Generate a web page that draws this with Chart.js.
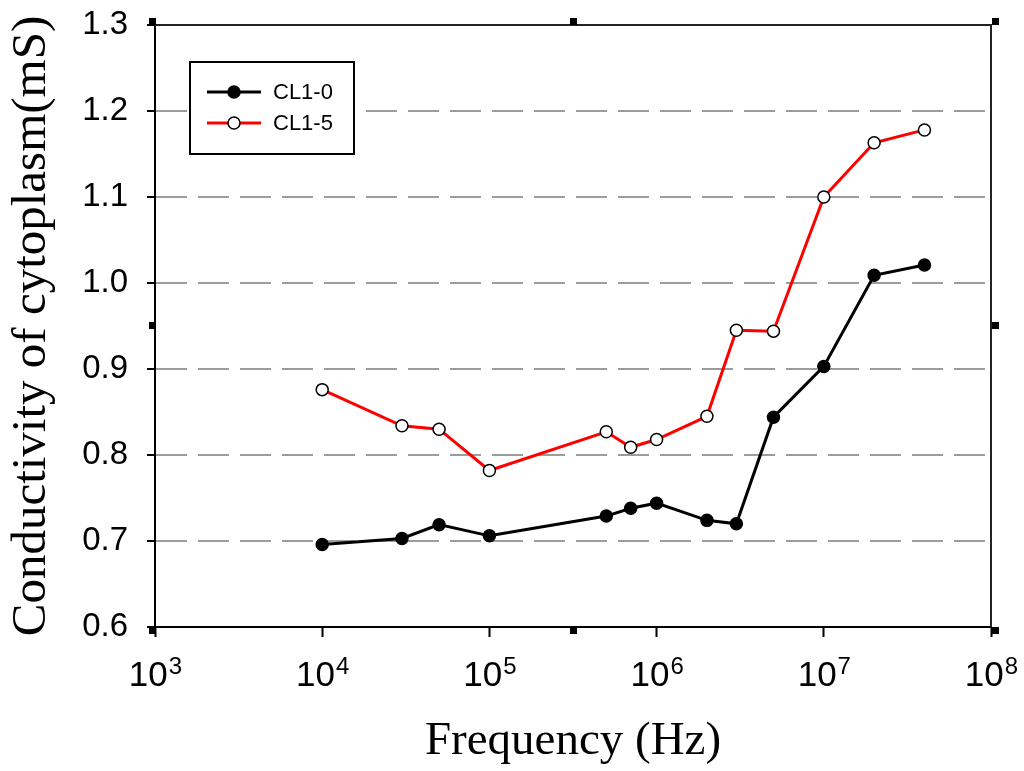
<!DOCTYPE html>
<html>
<head>
<meta charset="utf-8">
<title>Conductivity of cytoplasm</title>
<script src="https://cdn.jsdelivr.net/npm/chart.js@4.4.1/dist/chart.umd.min.js"></script>
<style>
  html, body { margin: 0; padding: 0; background: #fff; }
  canvas { display: block; }
</style>
</head>
<body>
<canvas id="conductivity-chart" width="1024" height="771"></canvas>
<script>
// Measurement frequencies (Hz), same for both samples
const frequencies = [1e4, 3e4, 5e4, 1e5, 5e5, 7e5, 1e6, 2e6, 3e6, 5e6, 1e7, 2e7, 4e7];
// Conductivity of cytoplasm (mS)
const cl10Values = [0.696, 0.703, 0.719, 0.706, 0.729, 0.738, 0.744, 0.724, 0.720, 0.844, 0.903, 1.009, 1.021];
const cl15Values = [0.876, 0.834, 0.830, 0.782, 0.827, 0.809, 0.818, 0.845, 0.945, 0.944, 1.100, 1.163, 1.178];
const seriesNames = ['CL1-0', 'CL1-5'];
// Axis ticks
const freqExponents = [3, 4, 5, 6, 7, 8];
const yTickValues = [0.6, 0.7, 0.8, 0.9, 1.0, 1.1, 1.2, 1.3];

const SANS = '"Liberation Sans", Arial, sans-serif';
const SERIF = '"Liberation Serif", "Times New Roman", serif';

const toPoints = (values) => frequencies.map((f, i) => ({ x: f, y: values[i] }));

// "10^n" labels under the x axis, drawn with a raised exponent
const powerLabels = {
  id: 'powerLabels',
  afterDraw(chart) {
    const { ctx } = chart;
    const xScale = chart.scales.x;
    const baseY = xScale.top + 59;
    ctx.save();
    ctx.fillStyle = '#000';
    ctx.textAlign = 'left';
    ctx.textBaseline = 'alphabetic';
    freqExponents.forEach((exp) => {
      const x = xScale.getPixelForValue(10 ** exp);
      ctx.font = `35px ${SANS}`;
      const baseW = ctx.measureText('10').width;
      ctx.font = `24px ${SANS}`;
      const expW = ctx.measureText(String(exp)).width;
      const left = x - (baseW + expW) / 2;
      ctx.font = `35px ${SANS}`;
      ctx.fillText('10', left, baseY);
      ctx.font = `24px ${SANS}`;
      ctx.fillText(String(exp), left + baseW + 1, baseY - 12);
    });
    ctx.restore();
  },
};

// Top/right frame lines plus the small square handles round the plot box
const frameBox = {
  id: 'frameBox',
  afterDraw(chart) {
    const { ctx, chartArea: a } = chart;
    ctx.save();
    ctx.strokeStyle = '#222';
    ctx.lineWidth = 2;
    ctx.beginPath();
    ctx.moveTo(a.left, a.top);
    ctx.lineTo(a.right, a.top);
    ctx.lineTo(a.right, a.bottom);
    ctx.stroke();

    ctx.fillStyle = '#000';
    const midX = (a.left + a.right) / 2;
    const midY = (a.top + a.bottom) / 2;
    const s = 7;
    [
      [a.left - s + 1, a.top - s], [midX - 3, a.top - s], [a.right + 1, a.top - s],
      [a.left - s + 1, midY - 4], [a.right + 1, midY - 4],
      [a.left - s + 1, a.bottom], [midX - 3, a.bottom], [a.right + 1, a.bottom],
    ].forEach(([x, y]) => ctx.fillRect(x, y, s, s));
    ctx.restore();
  },
};

// Boxed legend inside the plot area, upper left
const boxLegend = {
  id: 'boxLegend',
  afterDatasetsDraw(chart) {
    const { ctx } = chart;
    const box = { x: 190, y: 62, w: 164, h: 92 };
    ctx.save();
    ctx.fillStyle = '#fff';
    ctx.fillRect(box.x, box.y, box.w, box.h);
    ctx.strokeStyle = '#000';
    ctx.lineWidth = 2;
    ctx.strokeRect(box.x, box.y, box.w, box.h);

    chart.data.datasets.forEach((ds, i) => {
      const y = box.y + 30 + i * 31;
      ctx.strokeStyle = ds.borderColor;
      ctx.lineWidth = ds.borderWidth;
      ctx.beginPath();
      ctx.moveTo(box.x + 17, y);
      ctx.lineTo(box.x + 71, y);
      ctx.stroke();

      ctx.beginPath();
      ctx.arc(box.x + 44, y, ds.pointRadius, 0, Math.PI * 2);
      ctx.fillStyle = ds.pointBackgroundColor;
      ctx.fill();
      ctx.lineWidth = ds.pointBorderWidth;
      ctx.strokeStyle = ds.pointBorderColor;
      ctx.stroke();

      ctx.fillStyle = '#000';
      ctx.font = `22px ${SANS}`;
      ctx.textAlign = 'left';
      ctx.textBaseline = 'middle';
      ctx.fillText(ds.label, box.x + 83, y + 1);
    });
    ctx.restore();
  },
};

const ctx = document.getElementById('conductivity-chart').getContext('2d');
const conductivityChart = new Chart(ctx, {
  type: 'line',
  data: {
    datasets: [
      {
        label: seriesNames[0],
        data: toPoints(cl10Values),
        borderColor: '#000',
        borderWidth: 3,
        pointRadius: 6,
        pointBackgroundColor: '#000',
        pointBorderColor: '#000',
        pointBorderWidth: 1.5,
        tension: 0,
      },
      {
        label: seriesNames[1],
        data: toPoints(cl15Values),
        borderColor: '#ff0000',
        borderWidth: 3,
        pointRadius: 6,
        pointBackgroundColor: '#fff',
        pointBorderColor: '#000',
        pointBorderWidth: 1.5,
        tension: 0,
      },
    ],
  },
  options: {
    responsive: false,
    animation: false,
    layout: {
      padding: { top: 25, right: 33, left: 0, bottom: 0 },
    },
    plugins: {
      legend: { display: false },
      tooltip: { enabled: false },
    },
    scales: {
      x: {
        type: 'logarithmic',
        min: 1e3,
        max: 1e8,
        afterBuildTicks: (scale) => {
          scale.ticks = freqExponents.map((e) => ({ value: 10 ** e, major: true }));
        },
        afterFit: (scale) => {
          scale.height = 144;
          scale.paddingLeft = 0;
          scale.paddingRight = 0;
        },
        ticks: { display: false },
        grid: {
          drawOnChartArea: false,
          drawTicks: true,
          tickLength: 10,
          tickColor: '#000',
          tickWidth: 2,
        },
        border: { display: true, color: '#000', width: 2 },
        title: {
          display: true,
          text: 'Frequency (Hz)',
          color: '#000',
          font: { family: SERIF, size: 47, lineHeight: 1 },
          padding: { top: 0, bottom: 6 },
        },
      },
      y: {
        min: 0.6,
        max: 1.3,
        afterBuildTicks: (scale) => {
          scale.ticks = yTickValues.map((v) => ({ value: v }));
        },
        afterFit: (scale) => {
          scale.width = 155;
          scale.paddingTop = 0;
          scale.paddingBottom = 0;
        },
        ticks: {
          color: '#000',
          padding: 19,
          font: { family: SANS, size: 33 },
          callback: (v) => Number(v).toFixed(1),
        },
        grid: {
          color: (c) => {
            const v = c.tick ? c.tick.value : 0;
            return (v < 0.65 || v > 1.25) ? 'rgba(0,0,0,0)' : '#9c9c9c';
          },
          lineWidth: 2,
          tickLength: 8,
          tickColor: '#000',
          tickWidth: 2,
        },
        border: { display: true, color: '#000', width: 2, dash: [31, 11] },
        title: {
          display: true,
          text: 'Conductivity of cytoplasm(mS)',
          color: '#000',
          font: { family: SERIF, size: 49, lineHeight: 1 },
          padding: { top: 8, bottom: 0 },
        },
      },
    },
  },
  plugins: [powerLabels, frameBox, boxLegend],
});
</script>
</body>
</html>
